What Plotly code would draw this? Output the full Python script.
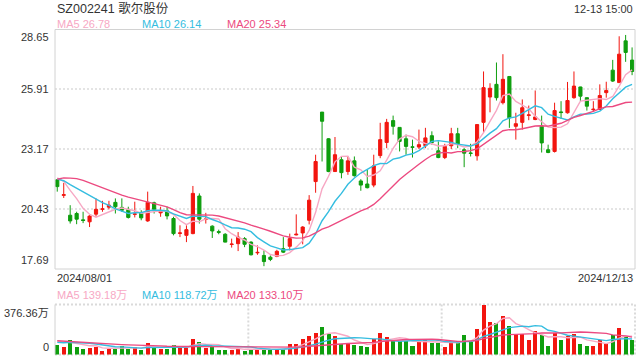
import plotly.graph_objects as go
import pandas as pd

# ---------------- data ----------------
title_text = "SZ002241 歌尔股份"
time_text = "12-13 15:00"
start_label = "2024/08/01"
end_label = "2024/12/13"

# closes / volumes of the 19 sessions before the window (estimated from MA lines)
prev_close = [19.9, 20.1, 20.4, 21.6, 22.4, 22.8, 22.9, 22.6, 22.5, 22.8,
              21.8, 21.7, 21.6, 21.7, 21.9, 21.9, 21.95, 21.85, 22.14]
prev_volume = [130, 150, 140, 120, 110, 100, 95, 105, 100, 100,
               85, 75, 80, 75, 80, 120, 110, 105, 106]

opens = [21.77, 21.06, 20.15, 20.23, 19.94, 19.85, 20.20, 20.42, 20.52, 20.74,
         20.51, 20.42, 20.19, 20.26, 19.89, 20.72, 20.26, 20.35, 20.00, 19.32,
         19.23, 19.31, 21.03, 19.96, 19.65, 19.40, 19.28, 18.81, 18.85, 19.08,
         18.92, 18.43, 18.31, 18.23, 18.27, 18.62, 18.73, 19.25, 19.34, 19.92,
         21.69, 24.87, 23.65, 22.15, 22.69, 22.15, 22.64, 21.72, 21.58, 21.53,
         22.88, 23.48, 24.48, 24.17, 23.65, 23.28, 23.27, 23.33, 23.79, 23.10,
         22.79, 23.33, 23.88, 23.15, 23.00, 22.87, 24.40, 25.56, 26.14, 25.30,
         26.50, 24.22, 24.40, 24.72, 24.53, 24.22, 23.15, 23.07, 24.88, 24.84,
         25.53, 26.02, 25.53, 24.98, 24.99, 25.76, 26.79, 26.22, 28.13, 27.25]
highs = [21.81, 21.63, 20.61, 20.31, 20.31, 20.15, 20.92, 20.81, 20.81, 20.92,
         20.92, 20.54, 20.77, 20.38, 21.23, 20.77, 20.54, 20.54, 20.08, 19.69,
         19.69, 21.49, 21.15, 20.26, 19.69, 19.49, 19.33, 19.08, 19.38, 19.15,
         18.96, 18.77, 18.54, 18.31, 18.57, 19.15, 19.31, 20.19, 19.65, 21.07,
         22.92, 24.87, 23.68, 23.73, 22.84, 22.84, 22.84, 21.80, 22.23, 22.92,
         24.38, 24.56, 24.71, 24.17, 23.84, 23.61, 24.07, 24.15, 23.99, 23.53,
         23.42, 24.15, 24.15, 23.22, 23.42, 24.30, 26.73, 26.19, 27.14, 27.52,
         26.50, 24.84, 25.45, 25.17, 25.86, 24.71, 23.38, 25.30, 25.37, 26.25,
         26.73, 26.03, 25.53, 25.37, 26.14, 26.26, 27.26, 28.34, 28.40, 27.83]
lows = [21.23, 20.94, 19.77, 19.74, 19.79, 19.61, 20.08, 20.31, 20.42, 20.23,
        20.31, 20.00, 20.05, 19.92, 19.85, 20.23, 20.08, 19.96, 19.23, 19.15,
        18.92, 19.28, 19.77, 19.77, 19.11, 19.28, 18.91, 18.67, 18.51, 18.69,
        18.31, 18.34, 17.82, 18.05, 18.23, 18.42, 18.54, 19.23, 18.82, 19.73,
        21.18, 22.61, 22.12, 22.15, 21.84, 22.00, 21.92, 21.27, 21.38, 21.43,
        22.76, 23.22, 23.84, 23.07, 22.92, 22.79, 23.18, 23.22, 23.38, 22.76,
        22.72, 23.18, 23.22, 22.35, 22.84, 22.65, 23.92, 24.86, 25.40, 25.22,
        24.15, 23.61, 24.07, 24.50, 24.50, 23.02, 22.99, 23.02, 24.56, 24.80,
        25.48, 25.37, 24.94, 24.91, 24.99, 25.53, 26.25, 26.22, 27.17, 26.56]
closes = [21.46, 21.09, 19.89, 19.97, 19.91, 20.11, 20.42, 20.44, 20.61, 20.54,
          20.38, 20.05, 20.21, 20.03, 20.74, 20.42, 20.35, 20.12, 19.31, 19.34,
          19.49, 21.15, 19.97, 19.98, 19.43, 19.37, 18.92, 18.83, 19.15, 18.82,
          18.34, 18.45, 18.03, 18.13, 18.50, 18.46, 19.08, 19.28, 19.61, 20.84,
          22.61, 24.45, 22.15, 22.92, 22.10, 22.64, 21.96, 21.53, 21.41, 22.41,
          23.61, 24.40, 24.22, 23.53, 23.30, 23.26, 23.38, 23.69, 23.48, 22.79,
          23.30, 23.88, 23.41, 22.99, 22.98, 24.30, 25.99, 25.96, 25.53, 26.37,
          24.61, 24.34, 25.07, 24.74, 24.65, 23.46, 23.02, 24.94, 24.85, 25.40,
          26.06, 25.60, 25.14, 25.00, 25.63, 25.86, 26.29, 27.52, 27.60, 26.73]
volumes = [74, 61, 110, 61, 44, 54, 61, 30, 44, 44,
           66, 44, 57, 37, 93, 54, 44, 44, 74, 57,
           54, 123, 98, 54, 61, 37, 37, 37, 54, 30,
           37, 37, 37, 37, 44, 44, 81, 81, 118, 140,
           165, 214, 160, 140, 86, 86, 74, 66, 61, 123,
           165, 135, 103, 103, 103, 66, 110, 110, 91, 91,
           61, 91, 106, 148, 98, 192, 376.36, 251, 241, 295,
           221, 155, 155, 110, 177, 152, 66, 165, 110, 140,
           155, 81, 66, 66, 110, 86, 152, 202, 135, 116]

price_ticks = [28.65, 25.91, 23.17, 20.43, 17.69]
vol_ticks = [376.36, 0]
vol_tick_labels = ["376.36万", "0"]
ma_periods = [5, 10, 20]
price_ma_labels = ["MA5 26.78", "MA10 26.14", "MA20 25.34"]
vol_ma_labels = ["MA5 139.18万", "MA10 118.72万", "MA20 133.10万"]

# ---------------- styles ----------------
RED = "#f2150f"
GREEN = "#0e9e0e"
MA_COLORS = ["#f7a8c4", "#35bde0", "#ec4a80"]
TXT = "#333333"
FONT = "Liberation Sans, Arial, Noto Sans CJK SC, sans-serif"
W, H = 640, 360
PX_L, PX_R = 55, 635
P_TOP, P_BOT = 29.5, 269
V_TOP, V_BOT = 304.5, 354.5

n = len(closes)
idx = list(range(n))

close_all = pd.Series(prev_close + closes)
vol_all = pd.Series(prev_volume + volumes)
price_mas = [close_all.rolling(p).mean().tolist()[-n:] for p in ma_periods]
vol_mas = [vol_all.rolling(p).mean().tolist()[-n:] for p in ma_periods]

fig = go.Figure()
fig.add_trace(go.Candlestick(
    x=idx, open=opens, high=highs, low=lows, close=closes,
    increasing=dict(line=dict(color=RED, width=1), fillcolor=RED),
    decreasing=dict(line=dict(color=GREEN, width=1), fillcolor=GREEN),
    whiskerwidth=0, xaxis="x", yaxis="y", hoverinfo="skip"))
for ma, col in zip(price_mas, MA_COLORS):
    fig.add_trace(go.Scatter(x=idx, y=ma, mode="lines", line=dict(color=col, width=1.4),
                             xaxis="x", yaxis="y", hoverinfo="skip"))

vol_colors = [RED if c >= o else GREEN for o, c in zip(opens, closes)]
fig.add_trace(go.Bar(x=idx, y=volumes, width=0.62, marker=dict(color=vol_colors, line=dict(width=0)),
                     xaxis="x2", yaxis="y2", hoverinfo="skip"))
for ma, col in zip(vol_mas, MA_COLORS):
    fig.add_trace(go.Scatter(x=idx, y=ma, mode="lines", line=dict(color=col, width=1.4),
                             xaxis="x2", yaxis="y2", hoverinfo="skip"))

xdom = [PX_L / W, PX_R / W]
xr = [-0.35, n - 1 + 0.45]
fig.update_layout(
    width=W, height=H, margin=dict(l=0, r=0, t=0, b=0),
    paper_bgcolor="white", plot_bgcolor="white", showlegend=False,
    font=dict(family=FONT, color=TXT, size=11),
    xaxis=dict(domain=xdom, range=xr, visible=False, rangeslider=dict(visible=False)),
    yaxis=dict(domain=[1 - P_BOT / H, 1 - P_TOP / H], range=[price_ticks[-1], price_ticks[0]],
               tickvals=price_ticks[1:-1], showticklabels=False, showgrid=True,
               gridcolor="#e4e4e4", gridwidth=2, griddash="2px,2px", zeroline=False),
    xaxis2=dict(domain=xdom, range=xr, visible=False, anchor="y2"),
    yaxis2=dict(domain=[1 - V_BOT / H, 1 - V_TOP / H], range=[0, vol_ticks[0]],
                showticklabels=False, showgrid=False, zeroline=False, anchor="x2"),
    bargap=0,
)

shapes = [
    dict(type="rect", xref="x domain", yref="y domain", x0=0, x1=1, y0=0, y1=1,
         line=dict(color="#d2d2d2", width=1)),
    dict(type="line", xref="x2 domain", yref="y2 domain", x0=0, x1=0, y0=0, y1=1,
         line=dict(color="#d2d2d2", width=1)),
]
dot = dict(color="#dadada", width=2, dash="2px,2px")
for (x0, x1, y0, y1) in [(0, 1, 1, 1), (0, 1, 0, 0), (1, 1, 0, 1),
                         (1 / 3, 1 / 3, 0, 1), (2 / 3, 2 / 3, 0, 1)]:
    shapes.append(dict(type="line", xref="x2 domain", yref="y2 domain",
                       x0=x0, x1=x1, y0=y0, y1=y1, line=dot, layer="below"))
fig.update_layout(shapes=shapes)

ann = []
def px_ann(text, x, y, xanchor="left", color=TXT, size=11):
    ann.append(dict(text=text, x=x / W, y=1 - y / H, xref="paper", yref="paper",
                    xanchor=xanchor, yanchor="middle", showarrow=False,
                    font=dict(color=color, size=size, family=FONT)))

px_ann(title_text, 55, 8, size=12.5)
px_ann(time_text, 635, 8.5, xanchor="right")
for lab, col, xp in zip(price_ma_labels, MA_COLORS, [55, 140, 225]):
    px_ann(lab, xp, 24, color=col)
px_ann(start_label, 55, 278)
px_ann(end_label, 635, 278, xanchor="right")
for lab, col, xp in zip(vol_ma_labels, MA_COLORS, [55, 140, 225]):
    px_ann(lab, xp, 295, color=col)

for i, t in enumerate(price_ticks):
    if i == 0:
        ya, ys = "top", 1
    elif i == len(price_ticks) - 1:
        ya, ys = "bottom", 1
    else:
        ya, ys = "middle", 0
    ann.append(dict(text=f"{t:.2f}", x=51 / W, xref="paper", y=t, yref="y",
                    xanchor="right", yanchor=ya, yshift=ys, showarrow=False,
                    font=dict(size=11, color=TXT, family=FONT)))
for t, lab, ya in zip(vol_ticks, vol_tick_labels, ["top", "bottom"]):
    ann.append(dict(text=lab, x=51 / W, xref="paper", y=t, yref="y2",
                    xanchor="right", yanchor=ya, showarrow=False,
                    font=dict(size=11, color=TXT, family=FONT)))
fig.update_layout(annotations=ann)

fig.write_html("out.html")
